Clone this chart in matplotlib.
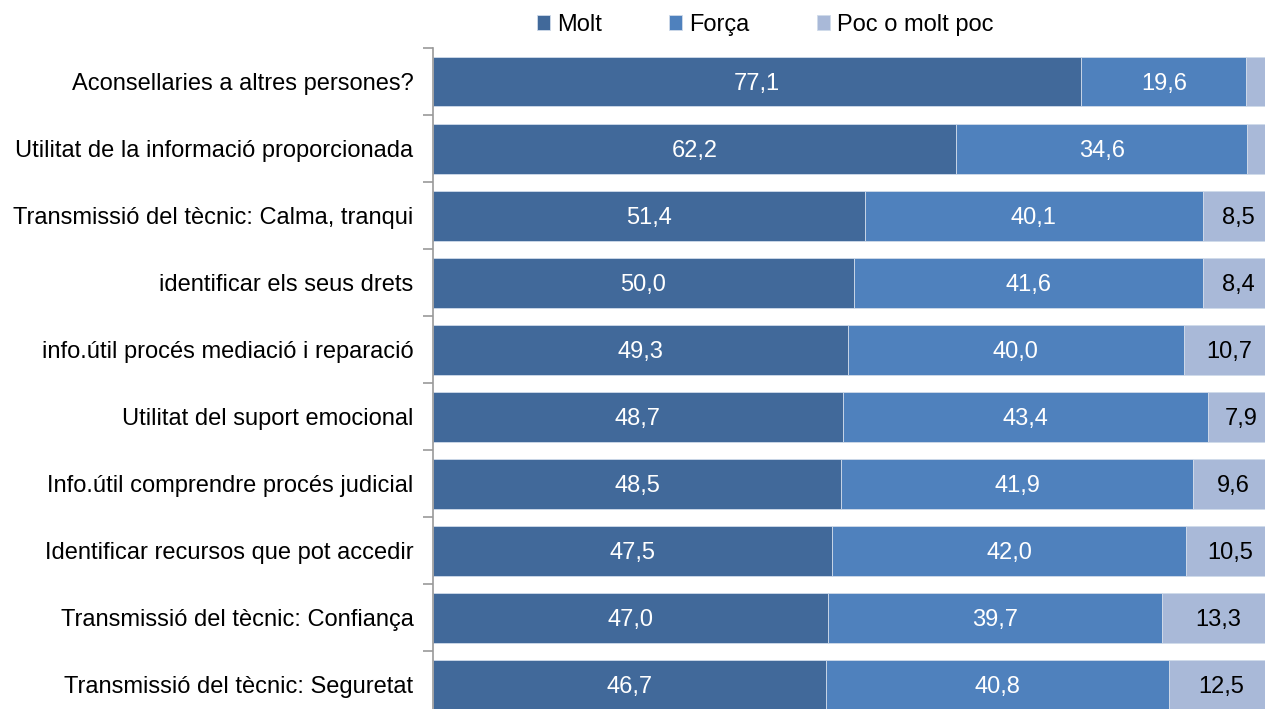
import matplotlib.pyplot as plt
import numpy as np

plt.rcParams['font.family'] = ['Liberation Sans', 'DejaVu Sans']

# categories, top to bottom
categories = ["Aconsellaries a altres persones?",
              "Utilitat de la informació proporcionada",
              "Transmissió del tècnic: Calma, tranqui",
              "identificar els seus drets",
              "info.útil procés mediació i reparació",
              "Utilitat del suport emocional",
              "Info.útil comprendre procés judicial",
              "Identificar recursos que pot accedir",
              "Transmissió del tècnic: Confiança",
              "Transmissió del tècnic: Seguretat"]

molt = [77.1, 62.2, 51.4, 50.0, 49.3, 48.7, 48.5, 47.5, 47.0, 46.7]
forca = [19.6, 34.6, 40.1, 41.6, 40.0, 43.4, 41.9, 42.0, 39.7, 40.8]
poc = [3.3, 3.2, 8.5, 8.4, 10.7, 7.9, 9.6, 10.5, 13.3, 12.5]

series_names = ["Molt", "Força", "Poc o molt poc"]
colors = ["#41699a", "#4f81bd", "#a9b9d8"]
text_colors = ["white", "white", "black"]

fig = plt.figure(figsize=(12.65, 7.09), dpi=100)
ax = fig.add_axes([0.3423, 0.0, 0.6577, 0.9323])

y = np.arange(len(categories))
left = np.zeros(len(categories))
for vals, name, col, tcol in zip([molt, forca, poc], series_names, colors, text_colors):
    vals = np.array(vals)
    ax.barh(y, vals, left=left, height=0.745, color=col, label=name,
            edgecolor="#d0dbea", linewidth=0.6)
    for yi, l, v in zip(y, left, vals):
        if v >= 5:
            ax.text(l + v / 2, yi + 0.03, f"{v:.1f}".replace(".", ","), ha="center",
                    va="center", color=tcol, fontsize=17)
    left = left + vals

ax.set_yticks(y)
ax.set_yticklabels(categories, fontsize=17)
ax.tick_params(axis="y", length=0, pad=14)
ax.set_yticks(np.arange(-0.5, 10, 1), minor=True)
ax.tick_params(axis="y", which="minor", length=7, color="#999999", width=1.2)
ax.set_xticks([])

# limits after ticks (ticks would expand the view otherwise)
ax.set_xlim(0, 98.93)
ax.set_ylim(9.36, -0.5)

for s in ["top", "right", "bottom"]:
    ax.spines[s].set_visible(False)
ax.spines["left"].set_color("#999999")
ax.spines["left"].set_linewidth(1.2)

fig.legend(loc="center", bbox_to_anchor=(0.605, 0.965), ncol=3, frameon=False,
           fontsize=17, handlelength=0.55, handleheight=0.55, handletextpad=0.3,
           columnspacing=2.85)

plt.savefig("out.png", dpi=100)
